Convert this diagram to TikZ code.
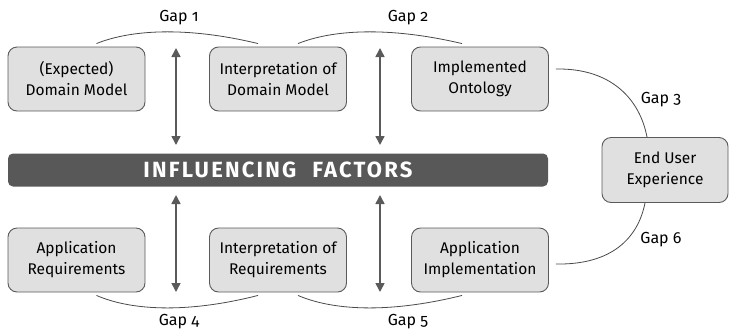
\documentclass[tikz,border=0pt]{standalone}
\usepackage{fontspec}
\setmainfont{Fira Sans}[Numbers=OldStyle]
\newfontfamily\barfont{Fira Sans}[LetterSpace=10]
\usetikzlibrary{arrows.meta}
\definecolor{boxfill}{HTML}{E0E0E0}
\definecolor{boxline}{HTML}{5A5A5A}
\definecolor{bardark}{HTML}{585858}
\definecolor{curveline}{HTML}{4A4A4A}
\begin{document}
\begin{tikzpicture}[x=1pt,y=-1pt,
  box/.style={draw=boxline, fill=boxfill, rounded corners=9pt, line width=0.9pt,
    minimum width=137pt, minimum height=64pt, align=center, inner sep=0pt,
    font=\fontsize{15.5}{21}\selectfont},
  gaplabel/.style={font=\fontsize{16}{19}\selectfont, inner sep=0pt},
  gapcurve/.style={draw=curveline, line width=0.8pt},
  influence/.style={draw=boxline, line width=1.6pt,
    {Triangle[length=9pt,width=9pt]}-{Triangle[length=9pt,width=9pt]}}
]
\useasboundingbox (0,0) rectangle (730,333);

% top row
\node[box] (dom)  at (76.5,79)  {(Expected)\\Domain Model};
\node[box] (idom) at (278,79)   {Interpretation of\\Domain Model};
\node[box] (onto) at (480,79)   {Implemented\\Ontology};

% bottom row
\node[box] (req)  at (76.5,260) {Application\\Requirements};
\node[box] (ireq) at (278,260)  {Interpretation of\\Requirements};
\node[box] (impl) at (480,260)  {Application\\Implementation};

% end user
\node[box, minimum width=126pt, minimum height=65pt] (user) at (665,170) {End User\\Experience};

% influencing factors bar
\node[fill=bardark, rounded corners=5pt, minimum width=540pt, minimum height=33pt,
  inner sep=0pt, text=white, font=\barfont\fontsize{22}{24}\selectfont\bfseries]
  (bar) at (278,170) {INFLUENCING\hspace{16pt}FACTORS};

% arrows between rows and bar
\coordinate (a1t) at (176,48);  \coordinate (a1b) at (176,145);
\coordinate (a2t) at (380,48);  \coordinate (a2b) at (380,145);
\coordinate (a3t) at (176,195); \coordinate (a3b) at (176,292);
\coordinate (a4t) at (380,195); \coordinate (a4b) at (380,292);
\draw[influence] (a1t) -- (a1b);
\draw[influence] (a2t) -- (a2b);
\draw[influence] (a3t) -- (a3b);
\draw[influence] (a4t) -- (a4b);

% gap curves
\draw[gapcurve] ([xshift=20pt,yshift=3pt]dom.north)
  .. controls (130,30) and (185,26) .. ([xshift=-20pt,yshift=3pt]idom.north);
\draw[gapcurve] ([xshift=20pt,yshift=3pt]idom.north)
  .. controls (332,30) and (387,26) .. ([xshift=-18pt,yshift=3pt]onto.north);
\draw[gapcurve] ([xshift=7pt,yshift=10pt]onto.east)
  .. controls (612,68) and (640,100) .. ([xshift=-18pt]user.north);
\draw[gapcurve] ([xshift=-20pt]user.south)
  .. controls (638,238) and (612,265) .. ([xshift=7pt,yshift=-4pt]impl.east);
\draw[gapcurve] ([xshift=20pt,yshift=-3pt]req.south)
  .. controls (130,310) and (185,314) .. ([xshift=-20pt,yshift=-3pt]ireq.south);
\draw[gapcurve] ([xshift=20pt,yshift=-3pt]ireq.south)
  .. controls (332,310) and (387,314) .. ([xshift=-18pt,yshift=-3pt]impl.south);

% gap labels
\node[gaplabel] (g1) at (179,18)  {Gap 1};
\node[gaplabel] (g2) at (408,18)  {Gap 2};
\node[gaplabel] (g3) at (661,100) {Gap 3};
\node[gaplabel] (g6) at (661,240) {Gap 6};
\node[gaplabel] (g4) at (179,322) {Gap 4};
\node[gaplabel] (g5) at (408,322) {Gap 5};
\end{tikzpicture}
\end{document}
